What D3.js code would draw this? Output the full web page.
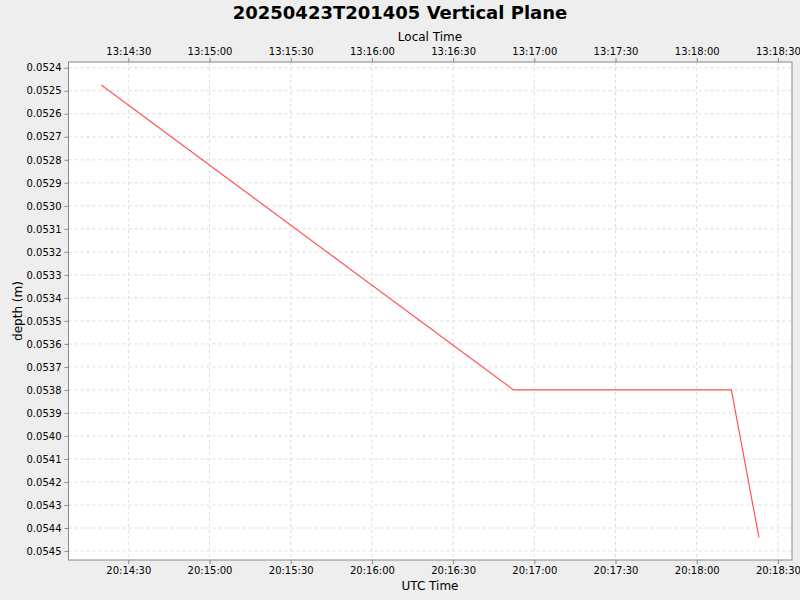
<!DOCTYPE html>
<html><head><meta charset="utf-8">
<script src="https://cdn.jsdelivr.net/npm/d3@7"></script>
<style>body{margin:0;background:#eeeeee;font-family:"DejaVu Sans",sans-serif}</style>
</head><body><svg id="c" width="800" height="600"></svg>
<script>
const times = ["2025-04-23T20:14:20Z","2025-04-23T20:16:52.3Z","2025-04-23T20:18:12.8Z","2025-04-23T20:18:23Z"];
const depths = [0.052475, 0.0538, 0.0538, 0.054442];
const yTicks = d3.range(0,22).map(i=>+(0.0524+i*0.0001).toFixed(4));
const xTickTimes = ["20:14:30","20:15:00","20:15:30","20:16:00","20:16:30","20:17:00","20:17:30","20:18:00","20:18:30"];
const localTickLabels = ["13:14:30","13:15:00","13:15:30","13:16:00","13:16:30","13:17:00","13:17:30","13:18:00","13:18:30"];

const svg=d3.select("#c");
const L=68.5,R=792,T=62,B=560;
const x=d3.scaleUtc().domain([new Date("2025-04-23T20:14:07.9Z"),new Date("2025-04-23T20:18:35.2Z")]).range([L,R]);
const y=d3.scaleLinear().domain([0.052375,0.054539]).range([T,B]);
const tickDates=xTickTimes.map(t=>new Date("2025-04-23T"+t+"Z"));
svg.append("rect").attr("x",L).attr("y",T).attr("width",R-L).attr("height",B-T).attr("fill","#fff");
const g=svg.append("g");
tickDates.forEach(d=>g.append("line").attr("x1",x(d)).attr("x2",x(d)).attr("y1",T).attr("y2",B).attr("stroke","#dcdcdc").attr("stroke-dasharray","3,3"));
yTicks.forEach(v=>g.append("line").attr("x1",L).attr("x2",R).attr("y1",y(v)).attr("y2",y(v)).attr("stroke","#dcdcdc").attr("stroke-dasharray","3,3"));
const fmt=d3.utcFormat("%H:%M:%S");
const bx=svg.append("g").attr("transform",`translate(0,${B})`).call(d3.axisBottom(x).tickValues(tickDates).tickFormat(fmt).tickSize(4).tickSizeOuter(0));
const tx=svg.append("g").attr("transform",`translate(0,${T})`).call(d3.axisTop(x).tickValues(tickDates).tickFormat((d,i)=>localTickLabels[i]).tickSize(4).tickSizeOuter(0));
const ly=svg.append("g").attr("transform",`translate(${L},0)`).call(d3.axisLeft(y).tickValues(yTicks).tickFormat(d3.format(".4f")).tickSize(4).tickSizeOuter(0));
[bx,tx,ly].forEach(a=>{a.selectAll("text").attr("font-size",10).attr("font-family","DejaVu Sans").attr("fill","#000");a.selectAll("line").attr("stroke","#888");a.select(".domain").remove();});
svg.append("rect").attr("x",L).attr("y",T).attr("width",R-L).attr("height",B-T).attr("fill","none").attr("stroke","#888");
const line=d3.line().x((d,i)=>x(new Date(times[i]))).y(d=>y(d));
svg.append("path").datum(depths).attr("d",line).attr("fill","none").attr("stroke","#ff5555").attr("stroke-width",1.2);
svg.append("text").attr("x",400).attr("y",19).attr("text-anchor","middle").attr("font-size",18).attr("font-weight","bold").text("20250423T201405 Vertical Plane");
svg.append("text").attr("x",430).attr("y",41).attr("text-anchor","middle").attr("font-size",12).text("Local Time");
svg.append("text").attr("x",430).attr("y",590).attr("text-anchor","middle").attr("font-size",12).text("UTC Time");
svg.append("text").attr("transform","translate(22,311) rotate(-90)").attr("text-anchor","middle").attr("font-size",12).text("depth (m)");
</script></body></html>
